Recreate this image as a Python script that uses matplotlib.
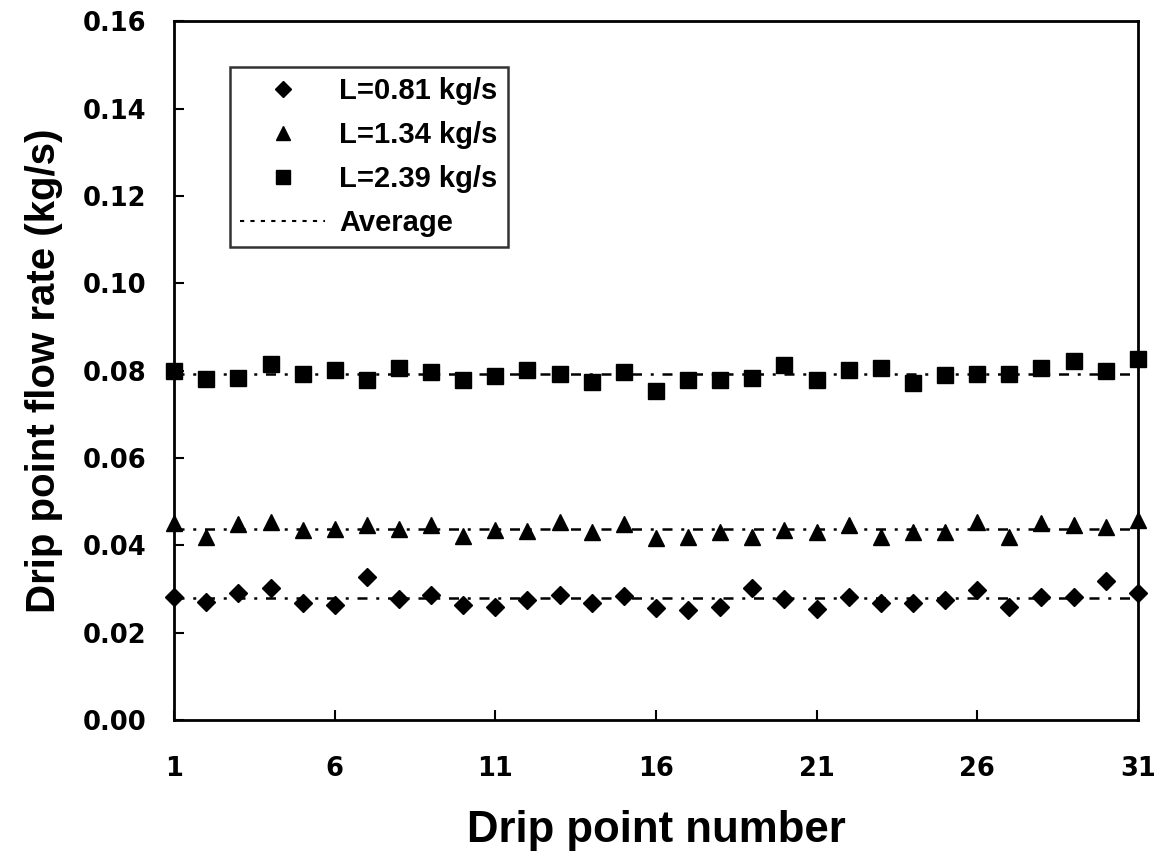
import matplotlib.pyplot as plt
from matplotlib.lines import Line2D
import numpy as np

plt.rcParams['font.family'] = ['Liberation Sans', 'DejaVu Sans']

drip_point = list(range(1, 32))

flow_081 = [0.0281, 0.0270, 0.0290, 0.0302, 0.0267, 0.0263, 0.0327, 0.0277, 0.0286, 0.0263,
            0.0258, 0.0274, 0.0286, 0.0267, 0.0283, 0.0256, 0.0251, 0.0258, 0.0302, 0.0277,
            0.0254, 0.0281, 0.0267, 0.0267, 0.0274, 0.0297, 0.0258, 0.0281, 0.0281, 0.0318,
            0.0290]
flow_134 = [0.0450, 0.0418, 0.0448, 0.0453, 0.0434, 0.0437, 0.0446, 0.0437, 0.0446, 0.0421,
            0.0434, 0.0432, 0.0453, 0.0430, 0.0448, 0.0416, 0.0418, 0.0430, 0.0418, 0.0434,
            0.0430, 0.0446, 0.0418, 0.0430, 0.0430, 0.0453, 0.0418, 0.0450, 0.0446, 0.0441,
            0.0457]
flow_239 = [0.0800, 0.0781, 0.0784, 0.0816, 0.0793, 0.0802, 0.0779, 0.0805, 0.0798, 0.0779,
            0.0788, 0.0802, 0.0793, 0.0775, 0.0798, 0.0754, 0.0779, 0.0779, 0.0784, 0.0814,
            0.0779, 0.0802, 0.0807, 0.0772, 0.0791, 0.0793, 0.0793, 0.0805, 0.0823, 0.0800,
            0.0827]

avg_081 = 0.0279
avg_134 = 0.0437
avg_239 = 0.0792

labels = ['L=0.81 kg/s', 'L=1.34 kg/s', 'L=2.39 kg/s', 'Average']

fig = plt.figure(figsize=(11.61, 8.56), dpi=100)
ax = fig.add_axes([0.150, 0.159, 0.830, 0.816])

avg_style = (0, (4, 3.5, 1.2, 3.5))
for avg in [avg_081, avg_134, avg_239]:
    ax.plot([drip_point[0], drip_point[-1]], [avg, avg], color='black',
            linestyle=avg_style, linewidth=1.8, zorder=2)

ax.plot(drip_point, flow_081, linestyle='none', marker='D', markersize=9.5,
        color='black', zorder=3, clip_on=False)
ax.plot(drip_point, flow_134, linestyle='none', marker='^', markersize=12,
        color='black', zorder=3, clip_on=False)
ax.plot(drip_point, flow_239, linestyle='none', marker='s', markersize=11.5,
        color='black', zorder=3, clip_on=False)

ax.set_xlim(1, 31)
ax.set_ylim(0, 0.16)
ax.set_xticks([1, 6, 11, 16, 21, 26, 31])
ax.set_yticks(np.arange(0, 0.161, 0.02))
ax.yaxis.set_major_formatter(plt.FormatStrFormatter('%.2f'))
ax.tick_params(direction='in', length=7, width=1.5, labelsize=18.5)
ax.tick_params(axis='x', pad=26)
ax.tick_params(axis='y', pad=20)
for t in ax.get_xticklabels() + ax.get_yticklabels():
    t.set_fontweight('bold')
    t.set_family('DejaVu Sans')
for s in ax.spines.values():
    s.set_linewidth(2)

ax.set_xlabel('Drip point number', fontsize=31.5, fontweight='bold', labelpad=20)
ax.set_ylabel('Drip point flow rate (kg/s)', fontsize=29, fontweight='bold', labelpad=14)

handles = [
    Line2D([], [], linestyle='none', marker='D', markersize=8, color='black'),
    Line2D([], [], linestyle='none', marker='^', markersize=10, color='black'),
    Line2D([], [], linestyle='none', marker='s', markersize=10, color='black'),
    Line2D([], [], linestyle=(0, (2, 3)), linewidth=1.5, color='black'),
]
leg = ax.legend(handles, labels, loc='upper left', bbox_to_anchor=(0.058, 0.935),
                prop={'size': 21, 'weight': 'bold'}, frameon=True, fancybox=False,
                edgecolor='black', handlelength=2.9, handletextpad=0.5,
                labelspacing=0.55, borderpad=0.35, borderaxespad=0)
leg.get_frame().set_linewidth(1.8)

fig.savefig('out.png', dpi=100)
